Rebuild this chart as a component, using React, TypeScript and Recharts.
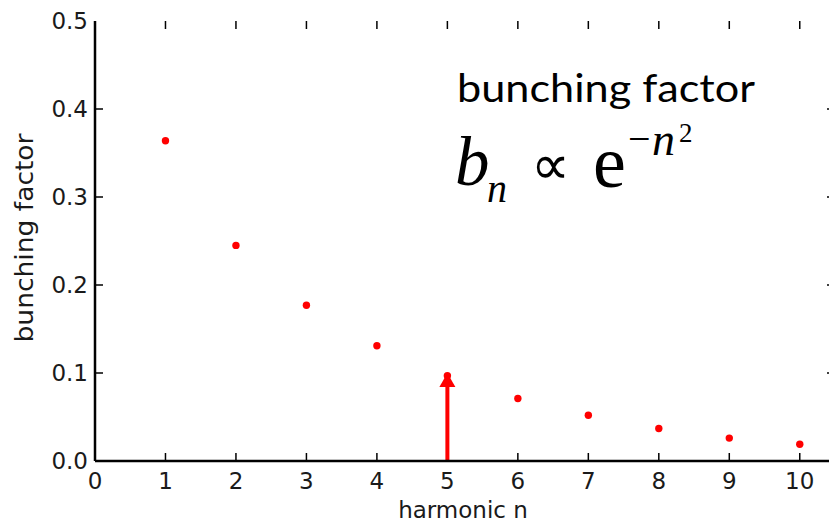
import { ScatterChart, Scatter, XAxis, YAxis, ReferenceLine, Label } from "recharts";

// harmonic number and bunching factor
const harmonics = [1, 2, 3, 4, 5, 6, 7, 8, 9, 10];
const bunching = [0.364, 0.245, 0.177, 0.131, 0.097, 0.071, 0.052, 0.037, 0.026, 0.019];

const xTicks = [0, 1, 2, 3, 4, 5, 6, 7, 8, 9, 10];
const yTicks = [0, 0.1, 0.2, 0.3, 0.4, 0.5];
const xMax = 10.5;
const yMax = 0.5;

// red arrow marking the 5th harmonic
const arrowN = 5;
const arrowTop = 0.1;

const data = harmonics.map((n, i) => ({ n, b: bunching[i] }));

const SPINE = { stroke: "#000", strokeWidth: 2.5 };
const TICK_FONT = { fontFamily: "DejaVu Sans", fontSize: 23, fill: "#1a1a1a" };
const SERIF = "'Liberation Serif', 'Times New Roman', serif";
const TICK_LEN = 8;

const Dot = (props: any) => <circle cx={props.cx} cy={props.cy} r={3.7} fill="#ff0000" />;

// inward matplotlib ticks on both ends of a full-span reference line
const VTicks = (props: any) => {
  const { x1, y1, x2, y2 } = props;
  const lo = Math.max(y1, y2);
  const hi = Math.min(y1, y2);
  return (
    <g stroke="#000" strokeWidth={1.5}>
      <line x1={x1} y1={lo} x2={x1} y2={lo - TICK_LEN} />
      <line x1={x2} y1={hi} x2={x2} y2={hi + TICK_LEN} />
    </g>
  );
};

const HTicks = (props: any) => {
  const { x1, y1, x2, y2 } = props;
  const l = Math.min(x1, x2);
  const r = Math.max(x1, x2);
  return (
    <g stroke="#000" strokeWidth={1.5}>
      <line x1={l} y1={y1} x2={l + TICK_LEN} y2={y1} />
      <line x1={r} y1={y2} x2={r - TICK_LEN} y2={y2} />
    </g>
  );
};

const Arrow = (props: any) => {
  const { x1, y1, y2 } = props;
  const bottom = Math.max(y1, y2);
  const tip = Math.min(y1, y2);
  return (
    <g>
      <line x1={x1} y1={bottom} x2={x1} y2={tip + 12} stroke="#ff0000" strokeWidth={4} />
      <polygon points={`${x1 - 8},${tip + 14} ${x1 + 8},${tip + 14} ${x1},${tip}`} fill="#ff0000" />
    </g>
  );
};

const YLabel = (props: any) => {
  const vb = props.viewBox || { x: 0, y: 21, width: 95, height: 440 };
  const cx = 33;
  const cy = vb.y + vb.height / 2 - 3;
  return (
    <text
      x={cx}
      y={cy}
      transform={`rotate(-90 ${cx} ${cy})`}
      textAnchor="middle"
      fontFamily="DejaVu Sans"
      fontSize={24}
      fill="#1a1a1a"
      textLength={209}
      lengthAdjust="spacingAndGlyphs"
    >
      bunching factor
    </text>
  );
};

const XLabel = (props: any) => {
  const vb = props.viewBox || { x: 95, y: 461, width: 740, height: 63 };
  return (
    <text
      x={vb.x + vb.width / 2 - 2}
      y={vb.y + 57}
      textAnchor="middle"
      fontFamily="DejaVu Sans"
      fontSize={23}
      fill="#1a1a1a"
    >
      harmonic n
    </text>
  );
};

export default function App() {
  return (
    <div style={{ position: "absolute", left: 0, top: 0, width: 829, height: 524, overflow: "hidden", background: "#fff" }}>
      <ScatterChart width={836} height={524} margin={{ top: 21, right: 1, left: 0, bottom: 0 }}>
        <XAxis
          xAxisId="bottom"
          dataKey="n"
          type="number"
          domain={[0, xMax]}
          ticks={xTicks}
          allowDataOverflow
          height={63}
          axisLine={SPINE}
          tickLine={false}
          tickSize={0}
          tickMargin={12}
          tick={TICK_FONT}
          interval={0}
        >
          <Label content={<XLabel />} />
        </XAxis>
        <XAxis
          xAxisId="top"
          orientation="top"
          dataKey="n"
          type="number"
          domain={[0, xMax]}
          allowDataOverflow
          height={0}
          axisLine={SPINE}
          tickLine={false}
          tick={false}
        />
        <YAxis
          yAxisId="left"
          dataKey="b"
          type="number"
          domain={[0, yMax]}
          ticks={yTicks}
          width={95}
          axisLine={SPINE}
          tickLine={false}
          tickSize={0}
          tickMargin={7}
          tick={TICK_FONT}
          tickFormatter={(v: number) => v.toFixed(1)}
          interval={0}
        >
          <Label content={<YLabel />} />
        </YAxis>
        <YAxis
          yAxisId="right"
          orientation="right"
          dataKey="b"
          type="number"
          domain={[0, yMax]}
          width={0}
          axisLine={SPINE}
          tickLine={false}
          tick={false}
        />
        {xTicks
          .filter((v) => v > 0)
          .map((v) => (
            <ReferenceLine
              key={`xt${v}`}
              xAxisId="bottom"
              yAxisId="left"
              segment={[
                { x: v, y: 0 },
                { x: v, y: yMax },
              ]}
              shape={<VTicks />}
              ifOverflow="visible"
            />
          ))}
        {yTicks
          .filter((v) => v > 0 && v < yMax)
          .map((v) => (
            <ReferenceLine
              key={`yt${v}`}
              xAxisId="bottom"
              yAxisId="left"
              segment={[
                { x: 0, y: v },
                { x: xMax, y: v },
              ]}
              shape={<HTicks />}
              ifOverflow="visible"
            />
          ))}
        <Scatter
          data={data}
          xAxisId="bottom"
          yAxisId="left"
          shape={<Dot />}
          isAnimationActive={false}
        />
        <ReferenceLine
          xAxisId="bottom"
          yAxisId="left"
          segment={[
            { x: arrowN, y: 0 },
            { x: arrowN, y: arrowTop },
          ]}
          shape={<Arrow />}
          ifOverflow="visible"
        />
      </ScatterChart>
      <svg width={829} height={524} style={{ position: "absolute", left: 0, top: 0, pointerEvents: "none" }}>
        <text x={457} y={102} fontFamily="Lato" fontSize={39} fill="#000" textLength={298} lengthAdjust="spacingAndGlyphs">
          bunching factor
        </text>
        <text x={455} y={185} fontFamily={SERIF} fontSize={69} fontStyle="italic" fill="#000">b</text>
        <text x={487} y={202} fontFamily={SERIF} fontSize={40} fontStyle="italic" fill="#000">n</text>
        <text x={531} y={184} fontFamily={SERIF} fontSize={56} fill="#000" textLength={39} lengthAdjust="spacingAndGlyphs">∝</text>
        <text x={593} y={187} fontFamily={SERIF} fontSize={74} fill="#000">e</text>
        <text x={628} y={152} fontFamily={SERIF} fontSize={40} fill="#000">−</text>
        <text x={652} y={155} fontFamily={SERIF} fontSize={46} fontStyle="italic" fill="#000">n</text>
        <text x={679} y={142} fontFamily={SERIF} fontSize={27} fill="#000">2</text>
      </svg>
    </div>
  );
}
